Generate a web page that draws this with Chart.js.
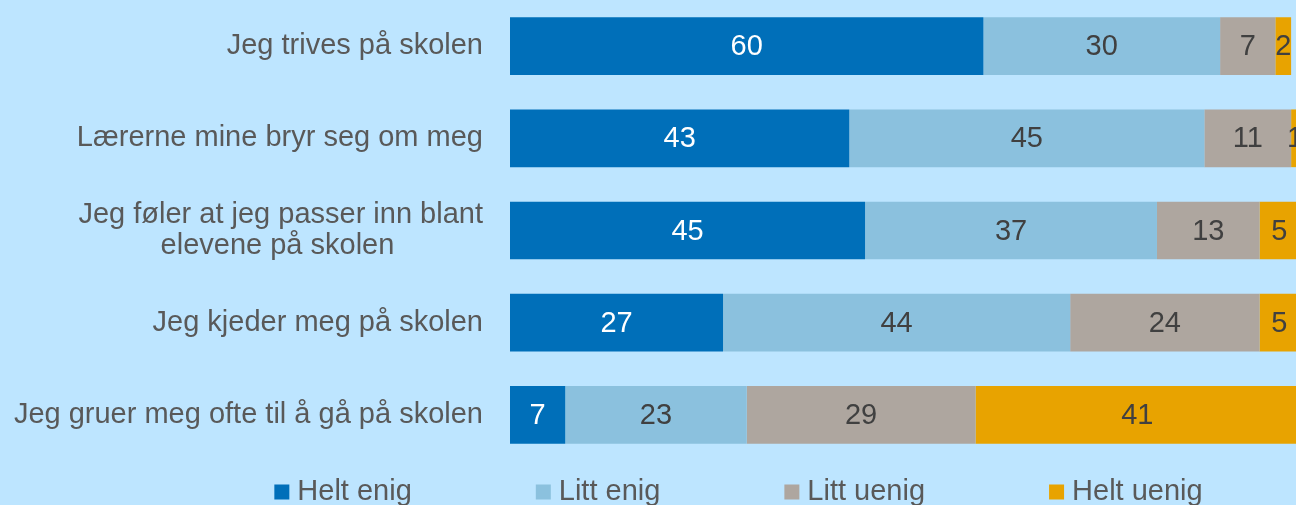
<!DOCTYPE html>
<html><head><meta charset="utf-8">
<script src="https://cdn.jsdelivr.net/npm/chart.js@4.4.1/dist/chart.umd.min.js"></script>
<style>
html,body{margin:0;padding:0;overflow:hidden;background:#BDE5FF;}
#wrap{width:1299px;height:505px;position:relative;}
canvas{display:block;}
</style>
</head><body><div id="wrap"><canvas id="c" width="1299" height="505"></canvas></div>
<script>
const categories = [
  'Jeg trives på skolen',
  'Lærerne mine bryr seg om meg',
  ['Jeg føler at jeg passer inn blant', 'elevene på skolen'],
  'Jeg kjeder meg på skolen',
  'Jeg gruer meg ofte til å gå på skolen'
];
const seriesNames = ['Helt enig', 'Litt enig', 'Litt uenig', 'Helt uenig'];
const heltEnig  = [60, 43, 45, 27, 7];
const littEnig  = [30, 45, 37, 44, 23];
const littUenig = [7, 11, 13, 24, 29];
const heltUenig = [2, 1, 5, 5, 41];
const seriesColors = ['#006FB9', '#8BC1DE', '#AEA69F', '#E8A300'];
const labelColors = ['#FFFFFF', '#404040', '#404040', '#404040'];

const FONT = "'Liberation Sans', Arial, sans-serif";
const FS = 29;

const mctx = document.createElement('canvas').getContext('2d');
mctx.font = FS + 'px ' + FONT;
function centreLines(lab){
  if(!Array.isArray(lab)) return lab;
  const w = lab.map(s => mctx.measureText(s).width);
  const maxW = Math.max(...w);
  const sp = mctx.measureText(' ').width;
  return lab.map((s,i) => s + ' '.repeat(Math.round((maxW - w[i]) / 2 / sp)));
}
const tickLabels = categories.map(centreLines);

const valueLabels = {
  id: 'valueLabels',
  afterDatasetsDraw(chart){
    const ctx = chart.ctx;
    ctx.save();
    ctx.font = FS + 'px ' + FONT;
    ctx.textAlign = 'center';
    ctx.textBaseline = 'middle';
    chart.data.datasets.forEach((ds, di) => {
      const meta = chart.getDatasetMeta(di);
      meta.data.forEach((bar, i) => {
        const v = ds.data[i];
        if (!v) return;
        const cx = (bar.x + bar.base) / 2;
        ctx.fillStyle = labelColors[di];
        ctx.fillText(String(v), cx, bar.y + 1);
      });
    });
    ctx.restore();
  }
};

const customLegend = {
  id: 'customLegend',
  afterDraw(chart){
    const ctx = chart.ctx;
    ctx.save();
    ctx.font = FS + 'px ' + FONT;
    ctx.textBaseline = 'middle';
    ctx.textAlign = 'left';
    const box = 15, off = 23, gap = 124, yc = 492;
    const items = chart.data.datasets.map(d => ({t: d.label, c: d.backgroundColor, w: ctx.measureText(d.label).width}));
    const total = items.reduce((s, it) => s + off + it.w, 0) + gap * (items.length - 1);
    let x = 738.5 - total / 2;
    items.forEach(it => {
      ctx.fillStyle = it.c;
      ctx.fillRect(x, yc - box / 2, box, box);
      ctx.fillStyle = '#595959';
      ctx.fillText(it.t, x + off, yc);
      x += off + it.w + gap;
    });
    ctx.restore();
  }
};

const seriesData = [heltEnig, littEnig, littUenig, heltUenig];
new Chart(document.getElementById('c'), {
  type: 'bar',
  data: {
    labels: tickLabels,
    datasets: seriesNames.map((n, i) => ({
      label: n,
      data: seriesData[i],
      backgroundColor: seriesColors[i],
      borderWidth: 0,
      barPercentage: 0.626,
      categoryPercentage: 1
    }))
  },
  options: {
    indexAxis: 'y',
    responsive: false,
    animation: false,
    devicePixelRatio: 1,
    layout: { padding: { top: -2, bottom: 44, left: 0, right: 0 } },
    plugins: { legend: { display: false }, tooltip: { enabled: false } },
    scales: {
      x: { stacked: true, min: 0, max: 100, display: false },
      y: {
        stacked: true,
        grid: { display: false, drawTicks: false },
        border: { display: false },
        afterFit(s){ s.width = 510; s.paddingTop = 0; s.paddingBottom = 0; },
        ticks: {
          padding: 27,
          color: '#595959',
          font: { family: FONT, size: FS, lineHeight: 1.07 }
        }
      }
    }
  },
  plugins: [valueLabels, customLegend]
});
</script>
</body></html>
